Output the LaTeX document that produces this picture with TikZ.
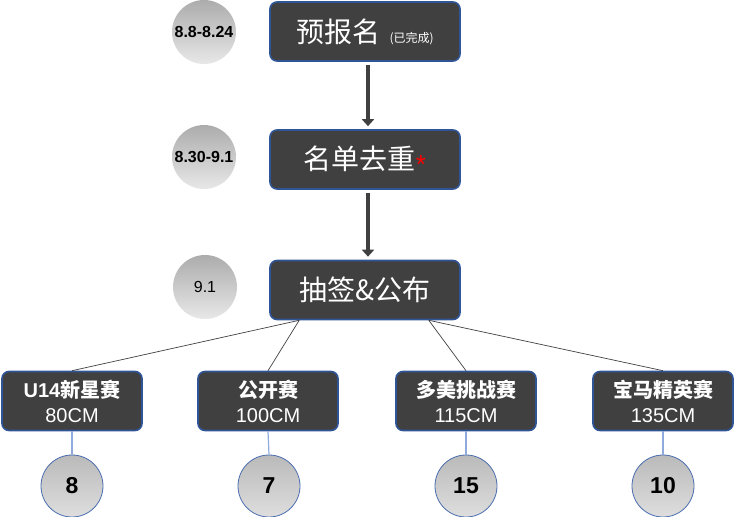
\documentclass[tikz,border=0pt]{standalone}
\usepackage{fontspec}
\setmainfont{Liberation Sans}
\newfontfamily\cjk{Noto Sans CJK SC}
\usetikzlibrary{arrows.meta,calc}
\definecolor{boxfill}{HTML}{404040}
\definecolor{boxedge}{HTML}{2F5597}
\definecolor{ringedge}{HTML}{4A6DB0}
\definecolor{stemblue}{HTML}{8FAADC}
\tikzset{
  stage/.style={draw=boxedge, line width=1.6pt, fill=boxfill, rounded corners=7pt,
    text=white, minimum width=190pt, minimum height=59pt, inner sep=0pt,
    font=\fontsize{28}{30}\selectfont\cjk},
  race/.style={draw=boxedge, line width=1.6pt, fill=boxfill, rounded corners=7pt,
    text=white, minimum width=140pt, minimum height=59pt, inner sep=0pt, align=center,
    font=\fontsize{20}{25}\selectfont},
  datedot/.style={circle, minimum size=64pt, inner sep=0pt,
    font=\fontsize{16}{18}\selectfont,
    top color={rgb,255:red,172;green,172;blue,172}, bottom color={rgb,255:red,232;green,232;blue,232}},
  countdot/.style={circle, draw=ringedge, line width=0.8pt, minimum size=62pt, inner sep=0pt,
    font=\fontsize{23}{25}\selectfont\bfseries,
    top color={rgb,255:red,186;green,186;blue,186}, bottom color={rgb,255:red,222;green,222;blue,222}},
  flow/.style={line width=4.5pt, draw=boxfill, -{Triangle[length=7pt,width=12pt]}},
  branch/.style={draw=boxfill, line width=0.7pt},
  stem/.style={draw=stemblue, line width=1.2pt}
}
\begin{document}
\begin{tikzpicture}[x=1pt,y=-1pt]
\useasboundingbox (0,0) rectangle (734,517);
% stages
\node[stage] (reg) at (365,31.5) {预报名\,\,{\fontsize{12}{14}\selectfont (已完成)}};
\node[stage] (dedup) at (365,159.5) {名单去重\raisebox{-0.3ex}{\color{red}\fontsize{26}{26}\selectfont\rmfamily *}};
\node[stage] (lots) at (365,290) {抽签\&公布};
% dates
\node[datedot] (d1) at (204,32) {\bfseries 8.8-8.24};
\node[datedot] (d2) at (204,157) {\bfseries 8.30-9.1};
\node[datedot] (d3) at (205,287) {9.1};
% races
\node[race] (u14) at (72,401) {\bfseries U14{\cjk\bfseries 新星赛}\\80CM};
\node[race] (open) at (268,401) {{\cjk\bfseries 公开赛}\\100CM};
\node[race] (duomei) at (466,401) {{\cjk\bfseries 多美挑战赛}\\115CM};
\node[race] (bmw) at (663,401) {{\cjk\bfseries 宝马精英赛}\\135CM};
% counts
\node[countdot] (n1) at (72,486) {8};
\node[countdot] (n2) at (269,486) {7};
\node[countdot] (n3) at (466,486) {15};
\node[countdot] (n4) at (663,486) {10};
% connectors
\draw[flow, shorten <=3pt, shorten >=3pt] ([xshift=3pt]reg.south) -- ([xshift=3pt]dedup.north);
\draw[flow, shorten <=3pt, shorten >=3pt] ([xshift=3pt]dedup.south) -- ([xshift=3pt]lots.north);
\coordinate (lotsL) at ([xshift=30pt]lots.south west);
\coordinate (lotsR) at ([xshift=-32pt]lots.south east);
\draw[branch] (lotsL) -- (u14.north);
\draw[branch] (lotsL) -- (open.north);
\draw[branch] (lotsR) -- (duomei.north);
\draw[branch] (lotsR) -- (bmw.north);
\draw[stem] (u14.south) -- (n1.north);
\draw[stem] (open.south) -- (n2.north);
\draw[stem] (duomei.south) -- (n3.north);
\draw[stem] (bmw.south) -- (n4.north);
\end{tikzpicture}
\end{document}
